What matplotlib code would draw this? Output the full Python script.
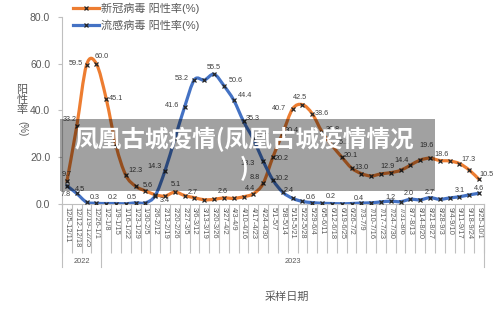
import numpy as np
import matplotlib
matplotlib.use("Agg")
import matplotlib.pyplot as plt
from matplotlib.path import Path
from matplotlib.patches import PathPatch, Rectangle
from matplotlib.lines import Line2D
import matplotlib.transforms as mtransforms

plt.rcParams['font.family'] = ['Liberation Sans', 'Noto Sans CJK SC', 'DejaVu Sans']

categories = [
    "12/5-12/11", "12/12-12/18", "12/19-12/25", "12/26-1/1",
    "1/2-1/8", "1/9-1/15", "1/16-1/22", "1/23-1/29", "1/30-2/5",
    "2/6-2/12", "2/13-2/19", "2/20-2/26", "2/27-3/5",
    "3/6-3/12", "3/13-3/19", "3/20-3/26", "3/27-4/2",
    "4/3-4/9", "4/10-4/16", "4/17-4/23", "4/24-4/30",
    "5/1-5/7", "5/8-5/14", "5/15-5/21", "5/22-5/28", "5/29-6/4",
    "6/5-6/11", "6/12-6/18", "6/19-6/25", "6/26-7/2",
    "7/3-7/9", "7/10-7/16", "7/17-7/23", "7/24-7/30", "7/31-8/6",
    "8/7-8/13", "8/14-8/20", "8/21-8/27", "8/28-9/3",
    "9/4-9/10", "9/11-9/17", "9/18-9/24", "9/25-10/1",
]
years = ["2022", "2023"]
year_counts = [4, 39]

covid = [9.7, 33.2, 59.5, 60.0, 45.1, 25.0, 12.3, 7.6, 5.6, 4.0,
         3.4, 5.1, 3.6, 2.7, 1.8, 2.0, 2.6, 2.4, 3.1, 4.4,
         8.8, 20.2, 30.4, 40.7, 42.5, 38.6, 30.8, 25.1, 20.1, 15.4,
         13.0, 12.0, 12.9, 13.4, 14.4, 16.6, 18.8, 19.6, 18.6, 18.4,
         17.3, 14.5, 10.5]
flu = [7.8, 4.5, 0.8, 0.3, 0.2, 0.2, 0.1, 0.5, 0.5, 3.6,
       14.3, 28.0, 41.6, 53.2, 53.0, 55.5, 50.6, 44.4, 35.3, 27.7,
       18.3, 10.2, 5.0, 2.4, 1.1, 0.6, 0.3, 0.2, 0.1, 0.2,
       0.4, 0.5, 0.9, 1.2, 1.0, 2.0, 1.8, 2.7, 2.0, 2.6,
       3.1, 3.9, 4.6]

covid_name = "新冠病毒 阳性率(%)"
flu_name = "流感病毒 阳性率(%)"
overlay_title = "凤凰古城疫情(凤凰古城疫情情况\n)"

# which points carry a data label, and where the label sits (points offset)
covid_label_pos = {
    0: (-0.5, 5), 1: (-5, 5), 2: (-7.5, 1), 3: (4, 5.5), 4: (7, 0),
    6: (7, 3.5), 8: (2, 4), 10: (0, -3.3), 11: (0.5, 5.4), 13: (-1, 3.7),
    16: (-0.5, 4.6), 19: (-2.5, 3.7), 20: (-6, 4), 21: (6.5, -1),
    22: (6.5, 2), 23: (-9.5, 0), 24: (-2, 5.5), 25: (7, 0), 26: (7.5, 2),
    27: (7.5, 2), 28: (6.5, 1), 30: (0, 4.7), 32: (5, 5.5), 34: (1, 7),
    37: (-2.5, 9), 38: (1.5, 4.3), 40: (6.5, 2.7), 42: (5.5, 3.8),
}
flu_label_pos = {
    0: (-0.5, -6), 1: (2.5, 3), 3: (-1.5, 4.2), 5: (-2, 4), 7: (-3, 3.5),
    10: (-7.5, 3), 12: (-9, 0.8), 13: (-9.5, 0.7), 15: (0, 4.7),
    16: (8.8, 3.9), 17: (8.4, 3.4), 18: (6.5, 2), 19: (7, 2),
    20: (-11, -1.5), 21: (6, 1.4), 23: (-2.6, 5.7), 25: (-1, 4),
    27: (-0.7, 4.7), 30: (-2, 3.6), 33: (0, 3), 35: (-1.3, 4.5),
    37: (0, 4), 40: (0, 4.8), 42: (0, 3.7),
}

ORANGE = "#ED7D31"
BLUE = "#4472C4"
GREY_TXT = "#595959"
AXIS_COL = "#bfbfbf"


def smooth_path(xs, ys):
    # excel style smoothed line: cubic bezier through every point
    pts = np.column_stack([xs, ys]).astype(float)
    n = len(pts)
    verts = [pts[0]]
    codes = [Path.MOVETO]
    for i in range(n - 1):
        p0 = pts[i - 1] if i > 0 else pts[i]
        p1 = pts[i]
        p2 = pts[i + 1]
        p3 = pts[i + 2] if i + 2 < n else pts[i + 1]
        c1 = p1 + (p2 - p0) / 6.0
        c2 = p2 - (p3 - p1) / 6.0
        verts += [c1, c2, p2]
        codes += [Path.CURVE4] * 3
    return Path(verts, codes)


fig = plt.figure(figsize=(5.0, 3.15), dpi=100)
ax = fig.add_axes([0.124, 0.3524, 0.844, 0.5937])

x = np.arange(len(categories))
for series, col in [(covid, ORANGE), (flu, BLUE)]:
    ax.add_patch(PathPatch(smooth_path(x, series), facecolor="none",
                           edgecolor=col, lw=2.3, capstyle="round",
                           joinstyle="round", zorder=3))
    ax.plot(x, series, linestyle="none", marker="x", ms=3.0, mew=0.9,
            color="#262626", zorder=4)

for series, pos in [(covid, covid_label_pos), (flu, flu_label_pos)]:
    for i, (dx, dy) in pos.items():
        ax.annotate(f"{series[i]:.1f}", (x[i], series[i]), xytext=(dx, dy),
                    textcoords="offset points", ha="center", va="center",
                    fontsize=5.2, color="#404040", zorder=5)

ax.set_xlim(-0.5, len(categories) - 0.5)
ax.set_ylim(0, 80)
ax.set_yticks([0, 20, 40, 60, 80])
ax.set_yticklabels([f"{v:.1f}" for v in [0, 20, 40, 60, 80]],
                   fontsize=7.5, color=GREY_TXT)
ax.tick_params(axis="y", length=3, width=0.8, color=AXIS_COL, pad=5.5)

ax.set_xticks(x)
ax.set_xticklabels(categories, rotation=-90, fontsize=5.4, color=GREY_TXT)
ax.tick_params(axis="x", which="major", length=0, pad=2.5)
ax.set_xticks(np.arange(-0.5, len(categories), 1), minor=True)
ax.tick_params(axis="x", which="minor", length=35, width=0.8, color=AXIS_COL)

for s in ["top", "right"]:
    ax.spines[s].set_visible(False)
for s in ["left", "bottom"]:
    ax.spines[s].set_color(AXIS_COL)
    ax.spines[s].set_linewidth(0.8)

# second level of the category axis: years
trans = mtransforms.blended_transform_factory(ax.transData, ax.transAxes)
edges = np.concatenate([[0], np.cumsum(year_counts)]) - 0.5
for e in edges:
    ax.plot([e, e], [0, -0.3375], transform=trans, color=AXIS_COL, lw=0.8,
            clip_on=False)
for yr, a, b in zip(years, edges[:-1], edges[1:]):
    ax.text((a + b) / 2, -0.31, yr, transform=trans, ha="center",
            va="center", fontsize=5.4, color=GREY_TXT)

fig.text(0.574, 1 - 297 / 315, "采样日期", ha="center", va="center",
         fontsize=8, color=GREY_TXT)
fig.text(0.044, 1 - 100 / 315, "阳\n性\n率", ha="center", va="center",
         fontsize=8, color=GREY_TXT, linespacing=0.95)
fig.text(0.044, 1 - 129 / 315, "(%)", ha="center", va="center",
         fontsize=7, color=GREY_TXT, rotation=-90)

handles = [
    Line2D([], [], color=ORANGE, lw=2.3, marker="x", ms=3.0, mew=0.9,
           mec="#262626"),
    Line2D([], [], color=BLUE, lw=2.3, marker="x", ms=3.0, mew=0.9,
           mec="#262626"),
]
fig.legend(handles, [covid_name, flu_name], loc="upper left",
           bbox_to_anchor=(73 / 500, 1 - 3 / 315), frameon=False,
           fontsize=8, labelspacing=0.45, handlelength=2.3,
           handletextpad=0.25, borderpad=0, borderaxespad=0,
           labelcolor=GREY_TXT)

# grey banner with white title over the plot
fig.add_artist(Rectangle((60 / 500, 1 - 191 / 315), 375 / 500, 72 / 315,
                         transform=fig.transFigure, facecolor="black",
                         alpha=0.37, edgecolor="none", zorder=10))
fig.text(244 / 500, 1 - 154 / 315, overlay_title, ha="center", va="center",
         multialignment="center", fontsize=17, fontweight="bold",
         color="white", linespacing=1.15, zorder=11,
         family=["Noto Sans CJK SC", "DejaVu Sans"])

fig.savefig("out.png", dpi=100)
